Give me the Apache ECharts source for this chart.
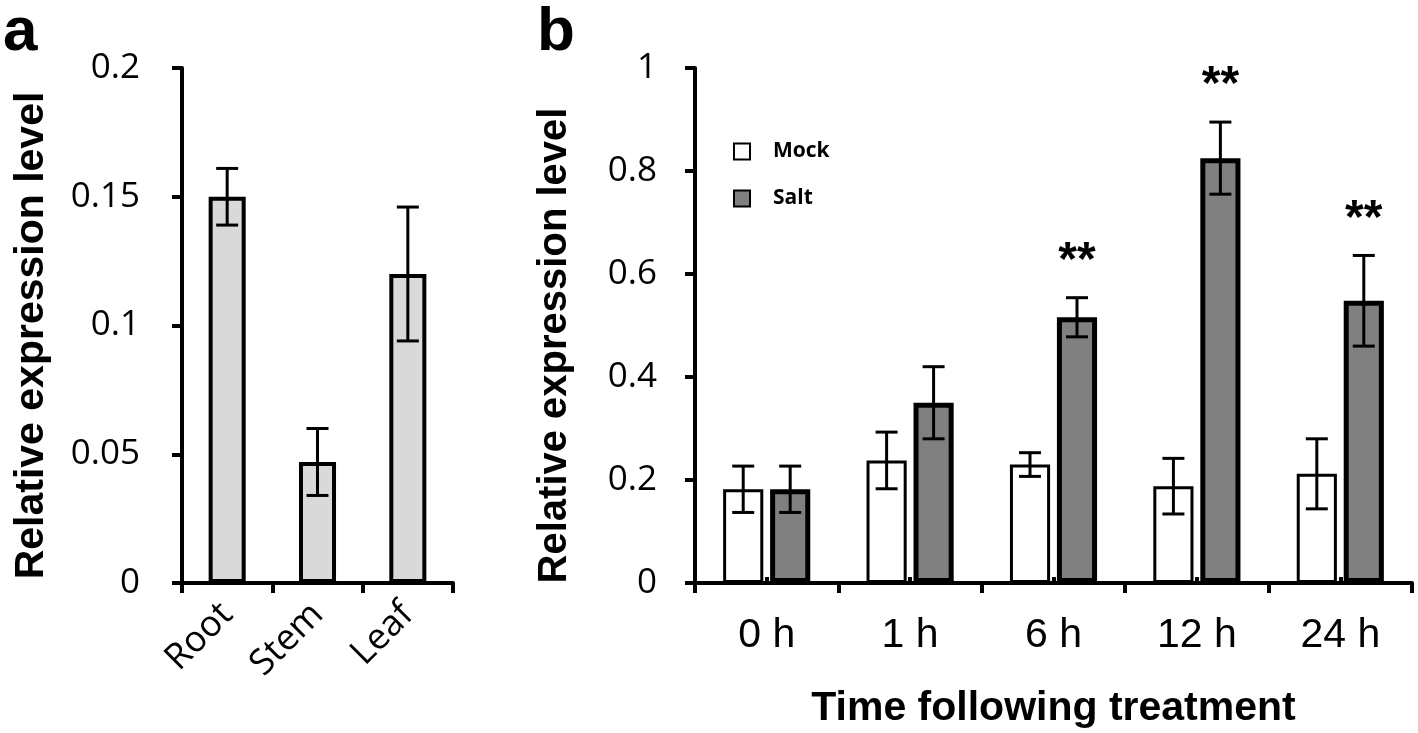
<!DOCTYPE html>
<html><head><meta charset="utf-8">
<script src="https://cdn.jsdelivr.net/npm/echarts@6/dist/echarts.min.js"></script>
<style>html,body{margin:0;padding:0;background:#fff}#c{width:1418px;height:733px}</style>
</head><body><div id="c"></div>
<script>
// Panel a
const tissues = ['Root', 'Stem', 'Leaf'];
const tissueVal = [0.150, 0.047, 0.120];
const tissueErr = [0.011, 0.013, 0.026];
const aTicks = [0, 0.05, 0.1, 0.15, 0.2];
// Panel b
const times = ['0 h', '1 h', '6 h', '12 h', '24 h'];
const mockVal = [0.182, 0.238, 0.230, 0.188, 0.212];
const mockErr = [0.045, 0.055, 0.023, 0.054, 0.068];
const saltVal = [0.182, 0.350, 0.516, 0.825, 0.548];
const saltErr = [0.045, 0.070, 0.038, 0.070, 0.088];
const saltSig = ['', '', '**', '**', '**'];
const bTicks = [0, 0.2, 0.4, 0.6, 0.8, 1];

const BAR_B = 0.28, GAP_B = 0.17;
const titleFont = '"Liberation Sans", Arial, sans-serif';
const labelFont = '"Open Sans", sans-serif';

function errItem(offsetFrac, sigArr) {
  return function (params, api) {
    const i = api.value(0), v = api.value(1), e = api.value(2);
    const band = api.size([1, 0])[0];
    const dx = offsetFrac * band;
    const top = api.coord([i, v + e]);
    const bot = api.coord([i, v - e]);
    const x = top[0] + dx;
    const cap = 11;
    const st = { stroke: '#000', lineWidth: 3 };
    const children = [
      { type: 'line', shape: { x1: x, y1: top[1], x2: x, y2: bot[1] }, style: st },
      { type: 'line', shape: { x1: x - cap, y1: top[1], x2: x + cap, y2: top[1] }, style: st },
      { type: 'line', shape: { x1: x - cap, y1: bot[1], x2: x + cap, y2: bot[1] }, style: st }
    ];
    if (sigArr && sigArr[params.dataIndex]) {
      children.push({ type: 'text', style: { text: sigArr[params.dataIndex], x: x, y: top[1] - 36,
        align: 'center', verticalAlign: 'middle', fill: '#000',
        font: 'bold 48px ' + titleFont } });
    }
    return { type: 'group', children: children };
  };
}

const bandOffset = (BAR_B + BAR_B * GAP_B) / 2;

const axisLine = { show: true, onZero: false, lineStyle: { color: '#000', width: 4 } };
const tickOut = { show: true, length: 10, lineStyle: { color: '#000', width: 4 } };

const option = {
  animation: false,
  backgroundColor: '#fff',
  graphic: [
    { type: 'text', left: 3, top: 2, style: { text: 'a', font: 'bold 62px ' + titleFont, fill: '#000' } },
    { type: 'text', left: 537, top: 2, style: { text: 'b', font: 'bold 62px ' + titleFont, fill: '#000' } }
  ],
  legend: {
    data: ['Mock', 'Salt'], orient: 'vertical', left: 728, top: 136,
    itemWidth: 16, itemHeight: 16, itemGap: 26, icon: 'rect',
    textStyle: { fontFamily: labelFont, fontWeight: 'bold', fontSize: 21, color: '#000', padding: [0, 0, 0, 18] }
  },
  grid: [
    { left: 182, top: 68, width: 271, height: 515, outerBoundsMode: 'none', containLabel: false },
    { left: 695, top: 68, width: 717, height: 515, outerBoundsMode: 'none', containLabel: false }
  ],
  xAxis: [
    { type: 'category', gridIndex: 0, data: tissues, axisLine: axisLine, axisTick: tickOut,
      axisLabel: { rotate: 45, margin: 26, color: '#000', fontSize: 36, fontFamily: labelFont } },
    { type: 'category', gridIndex: 0, data: tissues, position: 'bottom', axisLine: { show: false, onZero: false },
      axisTick: { show: true, inside: true, alignWithLabel: true, length: 6, lineStyle: { color: '#000', width: 4 } },
      axisLabel: { show: false } },
    { type: 'category', gridIndex: 1, data: times, axisLine: axisLine, axisTick: tickOut,
      axisLabel: { margin: 32, color: '#000', fontSize: 41, fontFamily: titleFont },
      name: 'Time following treatment', nameLocation: 'middle', nameGap: 105,
      nameTextStyle: { color: '#000', fontSize: 41, fontWeight: 'bold', fontFamily: titleFont } },
    { type: 'category', gridIndex: 1, data: times, position: 'bottom', axisLine: { show: false, onZero: false },
      axisTick: { show: true, inside: true, alignWithLabel: true, length: 6, lineStyle: { color: '#000', width: 4 } },
      axisLabel: { show: false } }
  ],
  yAxis: [
    { type: 'value', gridIndex: 0, min: 0, max: 0.2, interval: 0.05, axisLine: axisLine, axisTick: tickOut,
      splitLine: { show: false },
      axisLabel: { margin: 42, color: '#000', fontSize: 35, fontFamily: labelFont },
      name: 'Relative expression level', nameLocation: 'middle', nameGap: 130,
      nameTextStyle: { color: '#000', fontSize: 41, fontWeight: 'bold', fontFamily: titleFont, padding: [0, 20, 0, 0] } },
    { type: 'value', gridIndex: 1, min: 0, max: 1, interval: 0.2, axisLine: axisLine, axisTick: tickOut,
      splitLine: { show: false },
      axisLabel: { margin: 38, color: '#000', fontSize: 35, fontFamily: labelFont },
      name: 'Relative expression level', nameLocation: 'middle', nameGap: 120,
      nameTextStyle: { color: '#000', fontSize: 40, fontWeight: 'bold', fontFamily: titleFont, padding: [0, 40, 0, 0] } }
  ],
  series: [
    { name: 'Tissue', type: 'bar', xAxisIndex: 0, yAxisIndex: 0, data: tissueVal, barWidth: '41%',
      itemStyle: { color: '#d9d9d9', borderColor: '#000', borderWidth: 4 }, z: 2 },
    { name: 'TissueErr', type: 'custom', xAxisIndex: 0, yAxisIndex: 0,
      data: tissues.map((c, i) => [i, tissueVal[i], tissueErr[i]]),
      renderItem: errItem(0, null), z: 5 },
    { name: 'Mock', type: 'bar', xAxisIndex: 2, yAxisIndex: 1, data: mockVal, barWidth: (BAR_B * 100) + '%', barGap: (GAP_B * 100) + '%',
      itemStyle: { color: '#ffffff', borderColor: '#000', borderWidth: 3 }, z: 2 },
    { name: 'Salt', type: 'bar', xAxisIndex: 2, yAxisIndex: 1, data: saltVal, barWidth: (BAR_B * 100) + '%', barGap: (GAP_B * 100) + '%',
      itemStyle: { color: '#808080', borderColor: '#000', borderWidth: 5 }, z: 2 },
    { name: 'MockErr', type: 'custom', xAxisIndex: 2, yAxisIndex: 1,
      data: times.map((c, i) => [i, mockVal[i], mockErr[i]]),
      renderItem: errItem(-bandOffset, null), z: 5 },
    { name: 'SaltErr', type: 'custom', xAxisIndex: 2, yAxisIndex: 1,
      data: times.map((c, i) => [i, saltVal[i], saltErr[i]]),
      renderItem: errItem(bandOffset, saltSig), z: 5 }
  ]
};
const chart = echarts.init(document.getElementById('c'), null, { renderer: 'canvas' });
chart.setOption(option);
</script></body></html>
